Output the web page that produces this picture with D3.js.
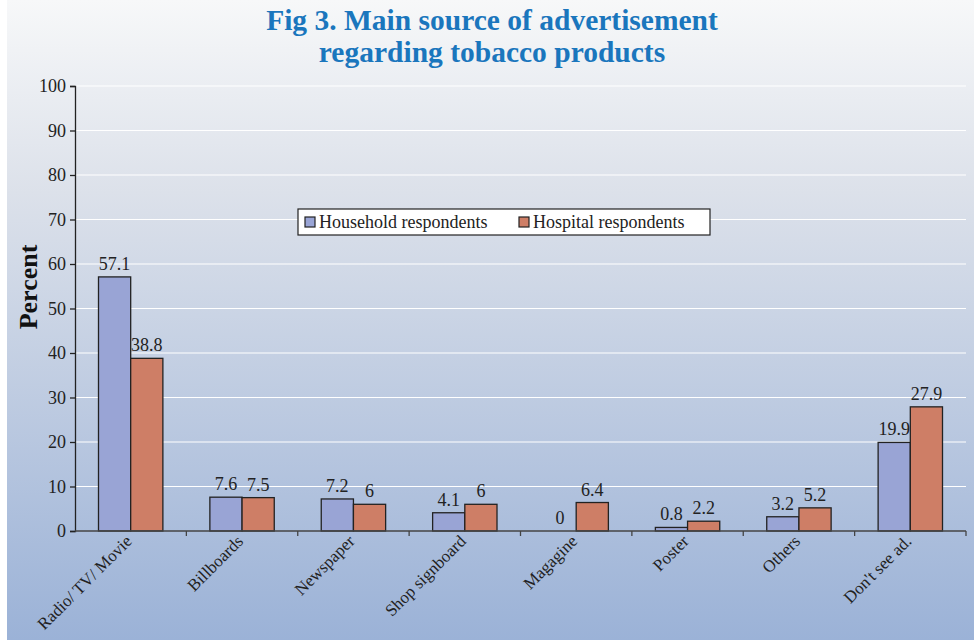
<!DOCTYPE html>
<html>
<head>
<meta charset="utf-8">
<script src="https://cdn.jsdelivr.net/npm/d3@7/dist/d3.min.js"></script>
<style>
  html, body { margin: 0; padding: 0; background: #fff; }
  svg { display: block; }
</style>
</head>
<body>
<svg id="chart" width="974" height="640"></svg>
<script>
// Advertisement sources and the share of respondents (%) who named each
const categories = ["Radio/ TV/ Movie", "Billboards", "Newspaper", "Shop signboard",
                    "Magagine", "Poster", "Others", "Don't see ad."];
const household = [57.1, 7.6, 7.2, 4.1, 0, 0.8, 3.2, 19.9];
const hospital  = [38.8, 7.5, 6, 6, 6.4, 2.2, 5.2, 27.9];
const seriesNames = ["Household respondents", "Hospital respondents"];
const yTicks = [0, 10, 20, 30, 40, 50, 60, 70, 80, 90, 100];

const colors = ["#99a4d5", "#ce7e66"];
const serif = "'Liberation Serif', 'Times New Roman', serif";
const fs = 18;

const svg = d3.select("#chart");
const W = 974, H = 640;
const margin = { left: 75, right: 8, top: 86, bottom: 109 };

// background gradient
const defs = svg.append("defs");
const grad = defs.append("linearGradient").attr("id", "bg")
  .attr("x1", 0).attr("y1", 0).attr("x2", 0).attr("y2", 1);
grad.append("stop").attr("offset", "0%").attr("stop-color", "#f7f8f9");
grad.append("stop").attr("offset", "30%").attr("stop-color", "#dce1ea");
grad.append("stop").attr("offset", "100%").attr("stop-color", "#9bb2d7");
svg.append("rect").attr("x", 7).attr("y", 0).attr("width", W - 7).attr("height", H)
  .attr("fill", "url(#bg)");

const x = d3.scaleBand().domain(categories)
  .range([margin.left, W - margin.right]).padding(0);
const y = d3.scaleLinear().domain([0, 100]).range([H - margin.bottom, margin.top]);

const inner = d3.scaleBand().domain([0, 1])
  .range([0, x.bandwidth()]).paddingInner(0).paddingOuter(0.73);

// gridlines
svg.append("g").selectAll("line").data(yTicks.filter(d => d > 0)).join("line")
  .attr("x1", margin.left).attr("x2", W - margin.right)
  .attr("y1", d => y(d)).attr("y2", d => y(d))
  .attr("stroke", "#ffffff").attr("stroke-width", 1.2);

// bars with value labels
const groups = svg.append("g").selectAll("g").data(categories).join("g")
  .attr("transform", d => `translate(${x(d)},0)`);
[household, hospital].forEach((vals, s) => {
  groups.append("rect")
    .attr("x", inner(s))
    .attr("y", (d, i) => y(vals[i]))
    .attr("width", inner.bandwidth())
    .attr("height", (d, i) => y(0) - y(vals[i]))
    .attr("fill", colors[s])
    .attr("stroke", "#222")
    .attr("stroke-width", 1.3);
  groups.append("text")
    .attr("x", inner(s) + inner.bandwidth() / 2)
    .attr("y", (d, i) => y(vals[i]) - 7)
    .attr("text-anchor", "middle")
    .attr("font-family", serif).attr("font-size", fs).attr("fill", "#222")
    .text((d, i) => vals[i]);
});

// y axis
const yAxis = svg.append("g").attr("transform", `translate(${margin.left},0)`)
  .call(d3.axisLeft(y).tickValues(yTicks).tickSize(5).tickPadding(4));
yAxis.selectAll("text").attr("font-family", serif).attr("font-size", fs).attr("fill", "#222");
yAxis.selectAll("line, path").attr("stroke", "#222").attr("stroke-width", 1.3);

// x axis with ticks at the category boundaries
const xAxisG = svg.append("g").attr("transform", `translate(0,${y(0)})`);
xAxisG.append("line").attr("x1", margin.left).attr("x2", W - margin.right)
  .attr("stroke", "#444").attr("stroke-width", 1.5);
const bounds = categories.map(c => x(c) + x.bandwidth());
xAxisG.selectAll(".tk").data(bounds).join("line")
  .attr("x1", d => d).attr("x2", d => d).attr("y1", 0).attr("y2", 5)
  .attr("stroke", "#444").attr("stroke-width", 1.3);
xAxisG.selectAll(".lbl").data(categories).join("text")
  .attr("transform", d => `translate(${x(d) + x.bandwidth() / 2 - 2},7) rotate(-45)`)
  .attr("text-anchor", "end")
  .attr("dy", "0.35em")
  .attr("font-family", serif).attr("font-size", 17).attr("fill", "#222")
  .text(d => d);

// y label
svg.append("text")
  .attr("transform", `translate(37,287) rotate(-90)`)
  .attr("text-anchor", "middle")
  .attr("font-family", serif).attr("font-size", 26).attr("font-weight", "bold").attr("fill", "#111")
  .text("Percent");

// title
const title = svg.append("text").attr("text-anchor", "middle")
  .attr("font-family", serif).attr("font-size", 29.5).attr("font-weight", "bold").attr("fill", "#1a76bd");
title.append("tspan").attr("x", 492).attr("y", 30).text("Fig 3. Main source of advertisement");
title.append("tspan").attr("x", 492).attr("y", 62).text("regarding tobacco products");

// legend
const lg = svg.append("g").attr("transform", "translate(298,209)");
lg.append("rect").attr("width", 412).attr("height", 26)
  .attr("fill", "#fff").attr("stroke", "#222").attr("stroke-width", 1.2);
const lx = [7, 221];
seriesNames.forEach((n, i) => {
  lg.append("rect").attr("x", lx[i]).attr("y", 8).attr("width", 10).attr("height", 10)
    .attr("fill", colors[i]).attr("stroke", "#222").attr("stroke-width", 1.2);
  lg.append("text").attr("x", lx[i] + 14).attr("y", 19)
    .attr("font-family", serif).attr("font-size", fs).attr("fill", "#222").text(n);
});
</script>
</body>
</html>
